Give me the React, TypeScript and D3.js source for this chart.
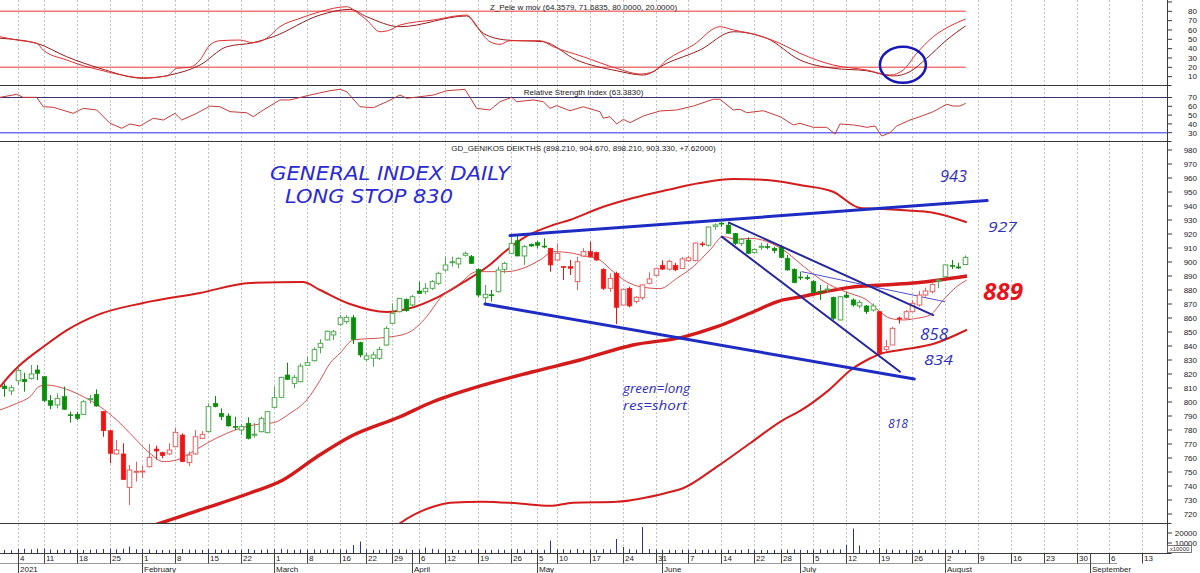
import React from 'react';
import * as d3 from 'd3';

const FONT = "'Liberation Sans', Arial, sans-serif";
const HAND = "'Open Sans', 'DejaVu Sans', sans-serif";
const HAND2 = "'DejaVu Sans', sans-serif";

// trading-day index of first candle
const FIRST_INDEX = -2;

const opens = [
  811.4, 807.9,
  815.2, 816.2, 816.9, 822.9, 818.1, 801.0, 797.9, 803.8, 790.9, 791.2,
  791.2, 801.9, 805.5, 793.1, 779.5, 762.9, 762.9, 739.0, 750.0, 750.2,
  753.8, 766.4, 763.8, 762.9, 768.1, 776.4, 756.7, 762.9, 774.0, 778.8,
  799.0, 791.9, 790.0, 782.6, 780.0, 784.8, 776.5, 778.8, 778.1, 796.2,
  803.3, 819.3, 813.3, 814.5, 826.2, 829.5, 839.0, 844.3, 847.9, 855.5,
  857.4, 860.2, 842.4, 830.5, 831.2, 831.2, 840.7, 856.2, 864.5, 873.3,
  869.3, 879.3, 878.8, 881.2, 884.8, 894.3, 899.8, 898.6, 904.8, 903.8,
  894.8, 874.5, 876.6, 878.8, 894.8, 906.2, 915.2, 904.3, 912.6, 913.8,
  911.4, 909.8, 901.4, 896.7, 896.7, 886.0, 904.3, 907.4, 906.7, 894.8,
  881.2, 891.9, 869.3, 881.2, 871.7, 874.5, 884.8, 890.5, 897.7, 894.9,
  897.7, 895.3, 901.0, 901.0, 913.0, 912.0, 925.5, 927.8, 926.4, 920.5,
  913.3, 915.7, 906.7, 910.8, 911.0, 909.8, 910.5, 902.6, 894.8, 889.3,
  889.0, 886.0, 878.8, 880.3, 874.8, 858.6, 876.4, 872.9, 868.6, 868.6,
  865.7, 864.5, 837.6, 840.7, 860.0, 859.8, 864.5, 869.3, 876.4, 878.8,
  886.9, 889.5, 897.6, 896.5, 898.2,
];
const highs = [
  813.3, 812.1,
  825.2, 820.9, 826.4, 826.4, 818.6, 805.0, 806.2, 811.0, 793.1, 793.1,
  801.4, 805.0, 809.0, 793.6, 780.0, 772.9, 770.5, 755.0, 757.4, 754.3,
  770.0, 768.8, 764.5, 770.5, 781.7, 777.6, 764.5, 780.0, 779.3, 799.0,
  804.3, 795.5, 791.9, 789.5, 784.3, 789.0, 785.0, 789.5, 793.1, 811.0,
  818.0, 828.1, 819.3, 827.6, 832.4, 839.0, 844.8, 851.0, 851.4, 862.1,
  862.0, 862.1, 843.1, 835.2, 836.0, 839.5, 854.3, 870.5, 874.5, 874.0,
  876.4, 886.0, 884.8, 887.1, 893.1, 903.8, 903.8, 903.3, 907.4, 905.0,
  895.5, 883.6, 880.0, 896.7, 900.2, 919.3, 918.6, 912.1, 913.3, 915.2,
  916.9, 910.2, 913.3, 897.0, 901.4, 903.8, 909.8, 914.5, 907.4, 895.5,
  891.9, 893.1, 881.0, 882.4, 875.7, 884.0, 892.6, 896.0, 901.2, 901.6,
  899.4, 903.5, 904.5, 914.0, 914.5, 925.2, 927.6, 928.5, 928.1, 920.8,
  916.9, 917.6, 909.8, 913.8, 913.3, 911.0, 912.1, 905.0, 895.5, 893.1,
  890.7, 887.1, 883.6, 883.6, 875.2, 875.7, 878.8, 874.0, 872.9, 869.3,
  870.5, 865.0, 844.3, 853.8, 861.0, 865.7, 872.9, 879.3, 881.7, 884.8,
  888.3, 898.3, 901.4, 899.5, 904.7,
];
const lows = [
  803.8, 805.0,
  812.1, 807.4, 816.0, 815.7, 799.8, 794.8, 795.5, 794.3, 785.2, 787.1,
  790.7, 799.0, 796.7, 775.2, 756.2, 762.4, 744.3, 726.4, 743.1, 745.5,
  753.3, 759.0, 759.8, 762.1, 767.6, 757.0, 754.3, 762.4, 773.6, 778.3,
  796.2, 787.1, 782.4, 780.0, 776.4, 773.3, 774.5, 778.3, 777.6, 795.7,
  803.0, 815.7, 809.8, 814.0, 825.7, 829.0, 834.8, 844.0, 844.3, 854.3,
  856.0, 841.4, 831.9, 828.8, 825.2, 830.0, 840.0, 855.7, 864.0, 864.5,
  868.0, 877.1, 877.1, 880.0, 883.6, 893.1, 896.7, 895.5, 903.8, 898.6,
  874.8, 870.5, 871.7, 878.1, 891.9, 906.0, 904.0, 897.9, 911.0, 909.8,
  909.8, 893.1, 901.0, 887.1, 890.7, 880.0, 903.8, 903.3, 901.0, 880.0,
  878.8, 855.7, 869.0, 867.6, 870.5, 873.0, 884.0, 889.8, 894.3, 893.9,
  893.5, 895.2, 900.0, 900.5, 911.0, 911.0, 923.0, 925.0, 920.3, 912.1,
  911.4, 905.7, 906.2, 908.6, 909.0, 906.2, 902.6, 893.8, 884.8, 887.1,
  887.1, 877.6, 872.9, 878.0, 858.6, 858.3, 874.0, 868.1, 866.9, 862.9,
  864.5, 834.3, 836.0, 840.7, 856.0, 859.0, 864.5, 868.1, 875.2, 877.6,
  881.2, 889.5, 895.0, 895.0, 898.2,
];
const closes = [
  809.5, 810.2,
  822.4, 814.5, 820.0, 820.5, 801.0, 797.6, 802.6, 794.8, 790.5, 788.3,
  800.2, 802.4, 797.1, 779.5, 763.3, 765.7, 744.6, 751.4, 750.5, 750.7,
  760.5, 765.0, 761.7, 765.7, 778.3, 757.4, 762.1, 775.2, 776.9, 796.7,
  796.7, 789.5, 782.9, 782.4, 782.4, 774.0, 777.0, 788.3, 793.1, 803.1,
  817.6, 816.2, 817.6, 825.7, 828.1, 837.6, 841.9, 850.5, 850.2, 860.2,
  860.5, 844.8, 833.6, 832.9, 833.6, 837.6, 852.6, 863.3, 874.0, 865.2,
  875.2, 877.6, 881.2, 886.0, 891.9, 897.9, 900.2, 902.6, 906.2, 899.0,
  876.4, 876.9, 876.2, 894.3, 899.0, 913.3, 904.3, 911.0, 911.4, 911.9,
  911.2, 897.9, 906.2, 896.4, 895.5, 900.2, 907.4, 903.8, 901.4, 881.2,
  888.3, 867.6, 880.5, 868.6, 874.8, 883.6, 887.9, 895.2, 894.9, 900.5,
  894.4, 902.2, 903.0, 913.5, 912.5, 925.0, 926.5, 927.3, 920.5, 913.3,
  916.2, 906.2, 909.0, 911.2, 910.7, 908.1, 903.3, 894.3, 885.2, 889.0,
  888.1, 878.1, 878.3, 880.7, 859.8, 875.2, 874.8, 869.3, 871.0, 864.5,
  868.6, 834.8, 839.5, 852.6, 859.3, 864.5, 870.5, 876.4, 879.3, 884.0,
  887.1, 897.9, 897.2, 895.7, 903.3,
];
const volumes = [
  3200, 2800,
  4000, 4200, 3600, 4400, 4500, 3500, 3300, 3800, 3100, 3400,
  3000, 3300, 3600, 4000, 4300, 3700, 4200, 6500, 3800, 3900,
  3500, 3200, 3000, 3100, 3600, 4000, 3400, 3500, 3000, 3800,
  3600, 3300, 3400, 3000, 3200, 3900, 3100, 3300, 3700, 3800,
  4100, 3600, 3300, 3500, 3400, 3600, 3300, 3500, 3800, 3600,
  3400, 8000, 11500, 3600, 3300, 3200, 3800, 4000, 3700, 3500,
  3000, 3400, 5500, 4200, 3600, 3800, 3300, 3000, 3100, 3400,
  4000, 3300, 3100, 3500, 3200, 3700, 3900, 3400, 3000, 3300,
  3200, 12500, 3600, 3800, 3300, 4000, 3200, 3300, 3100, 3900,
  3500, 14000, 6000, 3800, 3400, 26000, 4000, 3500, 3300, 3200,
  3000, 3300, 3100, 3600, 3000, 3500, 3200, 3300, 3100, 3400,
  3000, 3900, 3200, 3000, 2900, 3100, 3300, 3400, 3600, 3200,
  3000, 3300, 3800, 3100, 3700, 3600, 8000, 24500, 7500, 3200,
  3000, 5000, 3600, 3300, 3100, 3000, 2900, 3100, 3000, 3200,
  3500, 3300, 3100, 3200, 3000,
];
// trading-system colouring: green = long, red = short
const signalRuns = [
  { from: -2, to: 12, side: 'long' },
  { from: 13, to: 28, side: 'short' },
  { from: 29, to: 80, side: 'long' },
  { from: 81, to: 104, side: 'short' },
  { from: 105, to: 130, side: 'long' },
  { from: 131, to: 139, side: 'short' },
  { from: 140, to: 144, side: 'long' },
];

// [day index, value]
const upperBand = [
  [-2.66, 810.7], [-1.14, 819.3], [0.38, 826.4], [3.88, 839.3], [7.53, 851.4], [12.09, 862.1],
  [19.08, 870.7], [27.74, 877.9], [35.35, 885.0], [43.4, 885.7], [45.98, 880.0], [50.55, 870.0],
  [56.17, 864.3], [59.2, 866.4], [64.23, 875.7], [68.33, 887.1], [71.37, 896.4], [74.41, 908.6],
  [77.45, 918.6], [81.4, 926.4], [83.99, 930.0], [88.55, 938.6], [93.57, 945.7], [98.73, 951.4],
  [103.75, 956.4], [108.77, 959.3], [113.94, 958.6], [118.96, 955.0], [123.98, 950.2], [128.08, 938.6],
  [131.58, 937.9], [136.75, 936.4], [139.17, 935.2], [144.3, 928.4],
];
const middleBand = [
  [-2.66, 680.0], [12.0, 700.0], [21.66, 713.4], [27.74, 722.9], [35.35, 735.0], [40.36, 744.3],
  [45.53, 760.9], [50.55, 775.2], [58.15, 789.5], [63.16, 800.2], [70.76, 812.1], [78.36, 821.6],
  [85.51, 830.0], [93.57, 840.7], [101.17, 846.4], [106.34, 853.8], [111.36, 863.4], [116.37, 872.9],
  [118.96, 875.0], [121.54, 877.6], [126.56, 881.9], [131.58, 883.6], [136.75, 885.2], [144.35, 890.0],
];
const lowerBand = [
  [50.55, 680.0], [56.17, 706.0], [58.15, 713.4], [63.16, 725.2], [65.75, 728.1], [70.76, 728.8],
  [75.93, 727.6], [80.95, 725.9], [84.45, 728.1], [91.14, 728.8], [98.73, 735.2], [101.17, 738.4],
  [106.34, 753.8], [111.36, 770.5], [116.37, 787.1], [118.96, 793.6], [123.06, 807.4], [127.02, 824.1],
  [129.15, 830.0], [131.12, 834.3], [134.16, 837.1], [139.17, 841.4], [144.35, 851.6],
];
const shortMA = [
  [-2.66, 794.3], [-0.12, 799.0], [1.9, 803.8], [3.42, 811.4], [4.44, 812.1], [7.48, 809.0], [10.0, 803.8],
  [12.54, 796.7], [15.08, 787.1], [17.6, 775.2], [20.14, 763.3], [22.17, 757.4], [24.2, 758.6], [26.22, 763.3],
  [28.76, 770.5], [31.8, 777.6], [33.83, 781.2], [36.86, 784.3], [38.89, 785.2], [41.43, 791.9], [43.96, 801.4],
  [45.99, 815.5], [47.5, 827.6], [49.02, 834.8], [51.05, 844.3], [56.13, 846.2], [59.17, 849.0], [62.21, 861.0],
  [64.23, 874.0], [67.27, 884.8], [69.81, 893.1], [71.33, 893.1], [74.37, 893.1], [76.39, 894.8], [79.43, 901.4],
  [81.45, 907.4], [84.49, 906.2], [86.53, 903.8], [88.05, 902.6], [90.57, 893.1], [92.61, 886.0], [94.63, 882.4],
  [97.67, 881.0], [100.21, 888.3], [102.74, 896.7], [105.27, 908.6], [107.3, 918.1], [109.33, 916.2], [111.36, 916.9],
  [116.42, 908.6], [118.96, 899.0], [121.5, 889.5], [124.02, 882.4], [126.56, 877.6], [129.1, 872.9], [131.12, 864.5],
  [132.64, 859.8], [134.66, 858.6], [136.7, 859.8], [138.72, 862.1], [140.75, 872.9], [142.78, 882.4], [144.3, 887.1],
];
const zPeleFast = [
  [-2.66, 52.8], [-0.12, 49.2], [2.92, 45.7], [3.92, 38.5], [7.48, 27.8], [10.0, 21.7], [12.54, 17.1],
  [15.08, 12.8], [19.12, 8.8], [22.68, 10.7], [24.2, 18.9], [26.22, 20.0], [27.74, 27.8], [29.26, 43.9],
  [30.78, 48.5], [33.83, 49.2], [35.8, 46.3], [37.88, 51.1], [39.9, 63.5], [42.95, 72.5], [45.99, 79.6],
  [50.05, 84.9], [51.76, 77.9], [53.09, 70.7], [55.11, 58.1], [56.63, 60.0], [58.15, 65.3], [63.21, 70.7],
  [68.29, 76.0], [69.81, 63.5], [71.83, 47.4], [73.35, 44.6], [74.87, 48.5], [79.43, 48.5], [81.45, 42.1],
  [86.01, 31.3], [91.09, 18.9], [94.63, 12.8], [96.65, 15.3], [98.69, 27.8], [102.74, 43.9], [106.79, 63.5],
  [108.81, 60.0], [111.36, 56.4], [115.92, 45.7], [118.96, 35.0], [124.02, 22.4], [129.1, 17.1], [132.64, 11.7],
  [134.66, 17.1], [136.7, 35.0], [139.22, 52.8], [141.75, 64.2], [144.14, 71.7],
];
const zPeleSlow = [
  [-2.66, 51.1], [2.92, 45.7], [7.48, 31.3], [12.54, 18.9], [19.12, 8.2], [23.18, 11.7], [27.74, 22.4],
  [31.8, 42.0], [35.8, 46.3], [38.89, 52.8], [45.99, 76.0], [50.55, 82.1], [53.09, 74.2], [58.15, 63.5],
  [68.29, 75.0], [70.81, 56.4], [74.37, 49.2], [79.93, 47.4], [85.01, 27.8], [91.09, 16.3], [95.13, 11.7],
  [98.69, 24.3], [103.75, 38.5], [108.81, 58.1], [113.9, 51.1], [118.96, 27.8], [124.02, 18.9], [129.1, 16.3],
  [133.14, 10.7], [135.67, 15.3], [138.2, 29.6], [141.24, 49.2], [144.14, 64.4],
];
const rsiLine = [
  [-2.66, 70.2], [-0.12, 73.6], [0.84, 70.2], [2.92, 70.2], [3.92, 59.5], [5.44, 58.9], [8.48, 52.0],
  [10.0, 57.7], [12.04, 55.8], [14.06, 40.7], [15.84, 35.0], [17.1, 39.9], [18.62, 37.6], [20.64, 46.4],
  [22.17, 44.4], [23.94, 52.0], [24.96, 44.4], [27.24, 52.0], [29.26, 60.3], [30.78, 59.5], [32.3, 53.9],
  [34.84, 52.7], [35.85, 48.2], [37.37, 55.8], [39.9, 67.2], [41.43, 67.2], [44.47, 72.8], [47.51, 77.7],
  [49.02, 79.3], [50.05, 76.6], [52.07, 59.5], [54.09, 58.4], [56.13, 65.2], [58.15, 72.8], [59.17, 69.1],
  [61.19, 70.9], [63.21, 72.8], [65.25, 77.7], [68.03, 79.3], [69.81, 57.7], [71.83, 55.8], [73.35, 65.2],
  [75.13, 70.2], [75.89, 65.2], [78.41, 67.2], [79.93, 65.2], [80.95, 57.7], [81.97, 60.7], [83.99, 55.0],
  [86.01, 59.5], [88.55, 53.9], [89.05, 46.4], [90.07, 48.2], [91.09, 39.9], [92.1, 45.2], [93.12, 41.4],
  [95.14, 49.0], [97.67, 54.7], [100.21, 55.8], [102.74, 60.3], [105.78, 68.0], [106.79, 68.0], [108.81, 55.8],
  [109.83, 56.6], [110.85, 52.7], [113.38, 55.0], [115.92, 48.2], [117.94, 38.8], [118.96, 40.7], [120.98, 36.1],
  [123.02, 36.1], [124.28, 28.5], [125.04, 39.9], [127.06, 38.8], [128.08, 37.6], [129.1, 36.1], [130.36, 37.6],
  [131.38, 26.2], [132.64, 30.0], [133.66, 37.6], [135.68, 44.4], [137.2, 48.2], [139.22, 53.9], [141.25, 62.3],
  [142.26, 60.3], [143.28, 60.3], [144.14, 63.4],
];

// hand-drawn trend lines: [[i, v], [i, v]]
const channelLines = [
  [[74.87, 918.9], [147.4, 943.9]],
  [[71.07, 870.0], [136.33, 816.4]],
];
const wedgeLines = [
  [[108.16, 928.1], [139.2, 862.1]],
  [[107.05, 918.1], [134.16, 821.6]],
];
const thinTrend = [[119.2, 893.1], [141.0, 871.6]];

const annotations = [
  { text: 'GENERAL INDEX DAILY', i: 38.39, v: 958.9, size: 19, width: 240, color: '#2a2ad6', weight: 400, font: HAND2 },
  { text: 'LONG STOP 830', i: 40.67, v: 942.5, size: 19, width: 168, color: '#2a2ad6', weight: 400, font: HAND2 },
  { text: '943', i: 140.24, v: 957.4, size: 16, width: 27, color: '#3030c0', weight: 400, font: HAND },
  { text: '927', i: 147.54, v: 921.6, size: 15, width: 29, color: '#3030c0', weight: 400, font: HAND },
  { text: '889', i: 146.78, v: 872.9, size: 24, width: 40, color: '#e8141c', weight: 700, font: HAND },
  { text: '858', i: 137.2, v: 844.3, size: 16, width: 28, color: '#3030c0', weight: 400, font: HAND },
  { text: '834', i: 137.8, v: 826.4, size: 15, width: 29, color: '#3030c0', weight: 400, font: HAND },
  { text: '818', i: 132.32, v: 781.2, size: 12, width: 20, color: '#3030c0', weight: 400, font: HAND },
  { text: 'green=long', i: 92.05, v: 806.2, size: 13, width: 67, color: '#3030c0', weight: 400, font: HAND },
  { text: 'res=short', i: 92.05, v: 794.3, size: 13, width: 64, color: '#3030c0', weight: 400, font: HAND },
];
const circleMark = { i: 134.6, v: 22.8 };

const weekTickIndex = [0, 4, 9, 14, 19, 24, 29, 34, 39, 44, 49, 53, 57, 61, 65, 70, 75, 79, 82, 87, 92, 97, 102, 107, 112, 116, 121, 126, 131, 136, 141, 146, 151, 156, 161, 166, 171];
const weekTickLabel = ['4', '11', '18', '25', '1', '8', '15', '22', '1', '8', '16', '22', '29', '6', '12', '19', '26', '5', '10', '17', '24', '31', '7', '14', '22', '28', '5', '12', '19', '26', '2', '9', '16', '23', '30', '6', '13'];
const monthIndex = [0, 19, 39, 60, 79, 98, 119, 141, 163];
const monthLabel = ['2021', 'February', 'March', 'April', 'May', 'June', 'July', 'August', 'September'];

const mainTicks = [980, 970, 960, 950, 940, 930, 920, 910, 900, 890, 880, 870, 860, 850, 840, 830, 820, 810, 800, 790, 780, 770, 760, 750, 740, 730, 720];
const topTicks = [80, 70, 60, 50, 40, 30, 20, 10];
const rsiTicks = [70, 60, 50, 40, 30];
const volTicks = [20000, 10000];
const zLevels = [80, 20];
const rsiLevels = [70, 30];

const AXIS_X = 1167.5;

export default function App() {
  const x = d3.scaleLinear().domain([0, 141]).range([17.5, 945]);
  const yMain = d3.scaleLinear().domain([720, 980]).range([514, 150]);
  const yTop = d3.scaleLinear().domain([20, 80]).range([67.3, 11.3]);
  const yRsi = d3.scaleLinear().domain([30, 70]).range([132.7, 97.5]);
  const yVol = d3.scaleLinear().domain([0, 20000]).range([553, 533]);

  const mk = (ys: any, curve: any) =>
    d3.line<number[]>().x((d) => x(d[0])).y((d) => ys(d[1])).curve(curve);
  const mainLine = mk(yMain, d3.curveMonotoneX);
  const topLine = mk(yTop, d3.curveMonotoneX);
  const rsiPath = mk(yRsi, d3.curveLinear);
  const straight = mk(yMain, d3.curveLinear);

  const sideOf = (i: number) => {
    const r = signalRuns.find((s) => i >= s.from && i <= s.to);
    return r ? r.side : 'long';
  };

  const candles = opens.map((o, k) => ({
    i: k + FIRST_INDEX,
    o,
    h: highs[k],
    l: lows[k],
    c: closes[k],
    vol: volumes[k],
  }));

  const firstX = candles[0].i - 0.66;
  const lastI = candles[candles.length - 1].i;
  const bw = 4.6;

  return (
    <svg width={1200} height={573} style={{ position: 'absolute', left: 0, top: 0, background: '#fff' }} fontFamily={FONT}>
      <defs>
        <clipPath id="clipTop"><rect x={0} y={0} width={AXIS_X} height={85} /></clipPath>
        <clipPath id="clipRsi"><rect x={0} y={85} width={AXIS_X} height={56} /></clipPath>
        <clipPath id="clipMain"><rect x={0} y={141} width={AXIS_X} height={382} /></clipPath>
      </defs>
      <rect x={0} y={0} width={1200} height={573} fill="#fff" />

      {/* vertical dotted grid */}
      {weekTickIndex.map((wi, k) => (
        <line key={'g' + k} x1={Math.round(x(wi)) + 0.5} x2={Math.round(x(wi)) + 0.5} y1={0} y2={553}
          stroke="#c4c4c4" strokeWidth={1} strokeDasharray="2,2" />
      ))}

      {/* ===== Z_Pele panel ===== */}
      <g clipPath="url(#clipTop)">
        {zLevels.map((lv) => (
          <line key={'z' + lv} x1={x(firstX)} x2={x(lastI + 0.14)} y1={yTop(lv)} y2={yTop(lv)} stroke="#f07878" strokeWidth={1.6} />
        ))}
        <path d={topLine(zPeleSlow) || ''} fill="none" stroke="#9a1c1c" strokeWidth={1} />
        <path d={topLine(zPeleFast) || ''} fill="none" stroke="#e23030" strokeWidth={1} />
        <ellipse cx={x(circleMark.i)} cy={yTop(circleMark.v)} rx={23} ry={18} fill="none" stroke="#1818b8" strokeWidth={2.5} />
      </g>
      <text x={583.5} y={9.7} fontSize={8} textAnchor="middle" fill="#222">Z_Pele w mov (64.3579, 71.6835, 80.0000, 20.0000)</text>

      {/* ===== RSI panel ===== */}
      <g clipPath="url(#clipRsi)">
        <line x1={0} x2={AXIS_X} y1={yRsi(rsiLevels[0])} y2={yRsi(rsiLevels[0])} stroke="#34346e" strokeWidth={1} />
        <line x1={0} x2={AXIS_X} y1={yRsi(rsiLevels[1])} y2={yRsi(rsiLevels[1])} stroke="#7070f4" strokeWidth={1.5} />
        <path d={rsiPath(rsiLine) || ''} fill="none" stroke="#c83a3a" strokeWidth={1} />
      </g>
      <text x={583.5} y={95} fontSize={8} textAnchor="middle" fill="#222">Relative Strength Index (63.3830)</text>

      {/* ===== main panel ===== */}
      <g clipPath="url(#clipMain)">
        <path d={mainLine(lowerBand) || ''} fill="none" stroke="#d41c1c" strokeWidth={2} />
        <path d={mainLine(upperBand) || ''} fill="none" stroke="#d41c1c" strokeWidth={2} />
        <path d={mainLine(middleBand) || ''} fill="none" stroke="#d41a1a" strokeWidth={3.4} />
        <path d={mainLine(shortMA) || ''} fill="none" stroke="#d85050" strokeWidth={1} />
        <path d={straight(thinTrend) || ''} fill="none" stroke="#5050d0" strokeWidth={1} />

        {candles.map((d) => {
          const cx = Math.round(x(d.i)) + 0.5;
          const long = sideOf(d.i) === 'long';
          const filled = d.c < d.o;
          const solid = long ? '#0c8c0c' : '#ee1414';
          const light = long ? '#52a852' : '#e46262';
          const col = filled ? solid : light;
          const yt = yMain(Math.max(d.o, d.c));
          const yb = yMain(Math.min(d.o, d.c));
          const h = Math.max(1, yb - yt);
          return (
            <g key={'c' + d.i}>
              <line x1={cx} x2={cx} y1={yMain(d.h)} y2={yMain(d.l)} stroke={col} strokeWidth={1} />
              <rect x={cx - bw / 2} y={yt} width={bw} height={h}
                fill={filled ? solid : '#fff'} stroke={col} strokeWidth={filled ? 0.6 : 1} />
            </g>
          );
        })}

        {channelLines.map((ln, k) => (
          <path key={'ch' + k} d={straight(ln) || ''} fill="none" stroke="#1e2cc4" strokeWidth={3} strokeLinecap="round" />
        ))}
        {wedgeLines.map((ln, k) => (
          <path key={'w' + k} d={straight(ln) || ''} fill="none" stroke="#26269e" strokeWidth={2} strokeLinecap="round" />
        ))}

        {annotations.map((a, k) => (
          <text key={'a' + k} x={x(a.i)} y={yMain(a.v)} fontFamily={a.font} fontStyle="italic"
            fontWeight={a.weight} fontSize={a.size} fill={a.color}
            textLength={a.width} lengthAdjust="spacingAndGlyphs">{a.text}</text>
        ))}
      </g>
      <text x={583.5} y={151} fontSize={8} textAnchor="middle" fill="#222">GD_GENIKOS DEIKTHS (898.210, 904.670, 898.210, 903.330, +7.62000)</text>

      {/* ===== volume panel ===== */}
      {candles.map((d) => {
        const cx = Math.round(x(d.i)) + 0.5;
        return <line key={'v' + d.i} x1={cx} x2={cx} y1={yVol(0)} y2={yVol(d.vol)} stroke="#2c348c" strokeWidth={1} />;
      })}

      {/* panel separators */}
      {[85.5, 141.5, 523.5, 553.5].map((yy) => (
        <line key={'s' + yy} x1={0} x2={AXIS_X + 4} y1={yy} y2={yy} stroke="#3a3a3a" strokeWidth={1} />
      ))}
      <line x1={0} x2={1117} y1={563.5} y2={563.5} stroke="#9a9a9a" strokeWidth={1} />

      {/* right axis */}
      <line x1={AXIS_X} x2={AXIS_X} y1={0} y2={553} stroke="#3a3a3a" strokeWidth={1} />
      {topTicks.map((t) => (
        <g key={'tt' + t}>
          <line x1={AXIS_X} x2={AXIS_X + 4.5} y1={yTop(t)} y2={yTop(t)} stroke="#3a3a3a" />
          <text x={1197} y={yTop(t)} dy="0.35em" fontSize={8} textAnchor="end" fill="#222">{t}</text>
        </g>
      ))}
      <line x1={AXIS_X} x2={AXIS_X + 4.5} y1={yTop(90)} y2={yTop(90)} stroke="#3a3a3a" />
      {rsiTicks.map((t) => (
        <g key={'rt' + t}>
          <line x1={AXIS_X} x2={AXIS_X + 4.5} y1={yRsi(t)} y2={yRsi(t)} stroke="#3a3a3a" />
          <text x={1197} y={yRsi(t)} dy="0.35em" fontSize={8} textAnchor="end" fill="#222">{t}</text>
        </g>
      ))}
      {mainTicks.map((t) => (
        <g key={'mt' + t}>
          <line x1={AXIS_X} x2={AXIS_X + 4.5} y1={yMain(t)} y2={yMain(t)} stroke="#3a3a3a" />
          <text x={1197} y={yMain(t)} dy="0.35em" fontSize={8} textAnchor="end" fill="#222">{t}</text>
        </g>
      ))}
      {volTicks.map((t) => (
        <g key={'vt' + t}>
          <line x1={AXIS_X} x2={AXIS_X + 4.5} y1={yVol(t)} y2={yVol(t)} stroke="#3a3a3a" />
          <text x={1197} y={yVol(t)} dy="0.35em" fontSize={8} textAnchor="end" fill="#222">{t}</text>
        </g>
      ))}
      <rect x={1167.5} y={545.5} width={24} height={7} fill="#fff" stroke="#555" strokeWidth={0.8} />
      <text x={1179.5} y={551} fontSize={6} textAnchor="middle" fill="#333">x10000</text>

      {/* date axis */}
      {weekTickIndex.map((wi, k) => {
        const xx = Math.round(x(wi)) + 0.5;
        return (
          <g key={'wt' + k}>
            <line x1={xx} x2={xx} y1={553.5} y2={563.5} stroke="#444" strokeWidth={1} />
            <text x={xx + 1.5} y={561.3} fontSize={8} fill="#222">{weekTickLabel[k]}</text>
          </g>
        );
      })}
      {monthIndex.map((mi, k) => {
        const xx = Math.round(x(mi)) + 0.5;
        return (
          <g key={'mo' + k}>
            <line x1={xx} x2={xx} y1={553.5} y2={573} stroke="#444" strokeWidth={1} />
            <text x={xx + 1.5} y={571.5} fontSize={8} fill="#222">{monthLabel[k]}</text>
          </g>
        );
      })}
    </svg>
  );
}
